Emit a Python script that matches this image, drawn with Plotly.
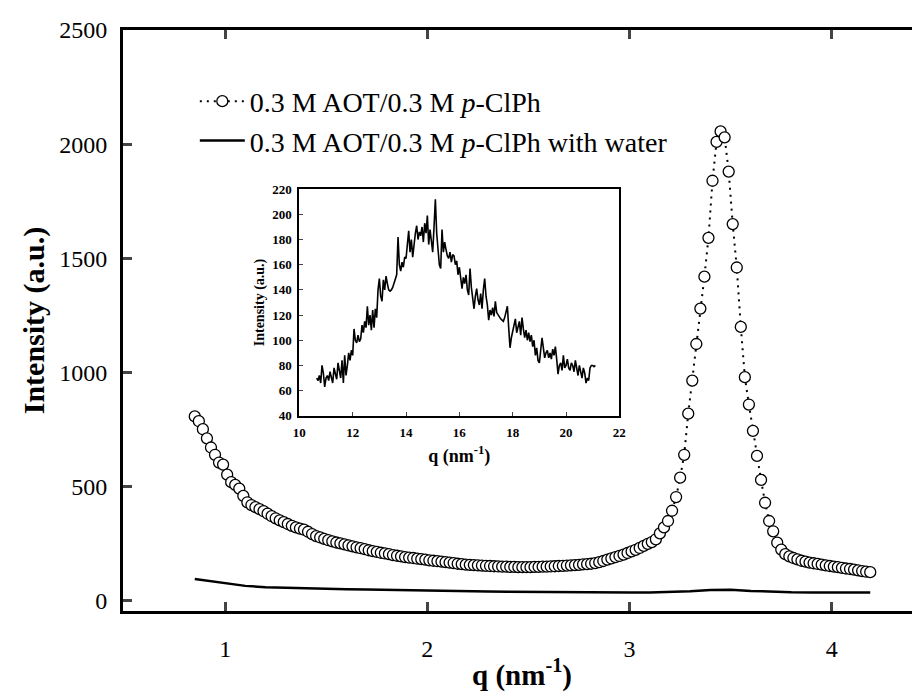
import plotly.graph_objects as go

# ---------------- data ----------------
q_main = [0.85, 0.87, 0.89, 0.91, 0.93, 0.95, 0.97, 0.99, 1.01, 1.03, 1.05, 1.07, 1.09, 1.11, 1.13, 1.15,
          1.17, 1.19, 1.21, 1.23, 1.25, 1.27, 1.29, 1.31, 1.33, 1.35, 1.37, 1.39, 1.41, 1.43, 1.45, 1.47,
          1.49, 1.51, 1.53, 1.55, 1.57, 1.59, 1.61, 1.63, 1.65, 1.67, 1.69, 1.71, 1.73, 1.75, 1.77, 1.79,
          1.81, 1.83, 1.85, 1.87, 1.89, 1.91, 1.93, 1.95, 1.97, 1.99, 2.01, 2.03, 2.05, 2.07, 2.09, 2.11,
          2.13, 2.15, 2.17, 2.19, 2.21, 2.23, 2.25, 2.27, 2.29, 2.31, 2.33, 2.35, 2.37, 2.39, 2.41, 2.43,
          2.45, 2.47, 2.49, 2.51, 2.53, 2.55, 2.57, 2.59, 2.61, 2.63, 2.65, 2.67, 2.69, 2.71, 2.73, 2.75,
          2.77, 2.79, 2.81, 2.83, 2.85, 2.87, 2.89, 2.91, 2.93, 2.95, 2.97, 2.99, 3.01, 3.03, 3.05, 3.07,
          3.09, 3.11, 3.13, 3.15, 3.17, 3.19, 3.21, 3.23, 3.25, 3.27, 3.29, 3.31, 3.33, 3.35, 3.37, 3.39,
          3.41, 3.43, 3.45, 3.47, 3.49, 3.51, 3.53, 3.55, 3.57, 3.59, 3.61, 3.63, 3.65, 3.67, 3.69, 3.71,
          3.73, 3.75, 3.77, 3.79, 3.81, 3.83, 3.85, 3.87, 3.89, 3.91, 3.93, 3.95, 3.97, 3.99, 4.01, 4.03,
          4.05, 4.07, 4.09, 4.11, 4.13, 4.15, 4.17, 4.19]
I_main = [808, 787, 752, 712, 672, 640, 606, 597, 553, 520, 508, 492, 460, 432, 420, 411,
          402, 393, 382, 371, 362, 353, 345, 337, 329, 322, 317, 312, 303, 293, 284, 278,
          272, 266, 261, 256, 252, 248, 243, 239, 235, 231, 227, 222, 218, 215, 211, 208,
          205, 201, 198, 195, 192, 190, 188, 185, 183, 181, 178, 176, 174, 172, 170, 168,
          166, 163, 161, 159, 158, 157, 156, 155, 154, 153, 152, 151, 150, 150, 149, 149,
          148, 148, 148, 148, 149, 149, 150, 150, 151, 152, 153, 154, 155, 156, 157, 158,
          160, 161, 163, 166, 170, 175, 181, 186, 192, 197, 203, 210, 217, 224, 232, 241,
          250, 258, 270, 296, 322, 350, 395, 455, 540, 640, 820, 965, 1125, 1280, 1420, 1590,
          1840, 2010, 2056, 2030, 1880, 1650, 1460, 1200, 980, 860, 745, 635, 530, 430, 350, 305,
          255, 225, 205, 195, 188, 182, 176, 172, 168, 165, 162, 159, 156, 153, 150, 148,
          145, 142, 140, 137, 134, 131, 128, 126]

q_water = [0.85, 0.9, 1.0, 1.1, 1.2, 1.3, 1.4, 1.5, 1.6, 1.7, 1.8, 1.9, 2.0, 2.1, 2.2, 2.3, 2.4, 2.5,
           2.6, 2.7, 2.8, 2.9, 3.0, 3.1, 3.2, 3.3, 3.4, 3.5, 3.6, 3.7, 3.8, 3.9, 4.0, 4.1, 4.19]
I_water = [96, 90, 78, 66, 60, 57, 55, 53, 51, 50, 48, 46, 45, 44, 42, 41, 40, 39,
           38, 38, 37, 37, 37, 37, 39, 43, 48, 49, 44, 40, 38, 37, 37, 37, 37]

q_inset_start = 10.65
q_inset_step = 0.05
I_inset = [70, 68, 72, 66, 80, 74, 63, 70,
           72, 68, 75, 71, 66, 78, 73, 69, 82, 74,
           70, 84, 66, 88, 72, 80, 90, 84, 92, 88,
           109, 100, 98, 104, 99, 101, 112, 106, 115, 110,
           127, 112, 120, 108, 124, 110, 125, 118, 140, 149,
           135, 131, 148, 140, 151, 145, 140, 139, 140, 142,
           146, 149, 152, 182, 160, 155, 162, 158, 166, 165,
           175, 187, 170, 180, 166, 178, 185, 191, 180, 186,
           183, 190, 178, 193, 185, 199, 176, 188, 180, 170,
           190, 212, 185, 175, 160, 157, 188, 170, 178, 172,
           167, 165, 170, 162, 168, 167, 160, 163, 152, 158,
           148, 141, 150, 145, 152, 140, 136, 157, 142, 135,
           125, 135, 141, 132, 128, 137, 125, 140, 149, 135,
           128, 116, 124, 120, 126, 119, 131, 122, 120, 118,
           117, 116, 115, 118, 122, 127, 110, 94, 102, 108,
           112, 117, 106, 110, 115, 104, 118, 109, 102, 108,
           100, 106, 99, 104, 95, 100, 88, 94, 84, 82,
           90, 102, 94, 86, 90, 92, 86, 90, 85, 93,
           88, 95, 85, 73, 80, 82, 76, 88, 78, 80,
           85, 78, 76, 82, 80, 75, 84, 78, 72, 80,
           76, 70, 78, 74, 66, 70, 68, 78, 80, 80, 79, 80]
q_inset = [round(q_inset_start + q_inset_step * i, 2) for i in range(len(I_inset))]

main_xticks = [1, 2, 3, 4]
main_yticks = [0, 500, 1000, 1500, 2000, 2500]
inset_xticks = [10, 12, 14, 16, 18, 20, 22]
inset_yticks = [40, 60, 80, 100, 120, 140, 160, 180, 200, 220]

name_1 = "0.3 M AOT/0.3 M <i>p</i>-ClPh"
name_2 = "0.3 M AOT/0.3 M <i>p</i>-ClPh with water"
x_title = "<b>q (nm<sup>-1</sup>)</b>"
y_title = "<b>Intensity (a.u.)</b>"

SERIF = "Liberation Serif"

# ---------------- figure ----------------
fig = go.Figure()
fig.add_trace(go.Scatter(
    x=q_main, y=I_main, mode="lines+markers", name=name_1,
    line=dict(color="black", width=2, dash="2px,5px"),
    marker=dict(symbol="circle", size=11, color="white", line=dict(color="black", width=1.3)),
))
fig.add_trace(go.Scatter(
    x=q_water, y=I_water, mode="lines", name=name_2,
    line=dict(color="black", width=2.5),
))
fig.add_trace(go.Scatter(
    x=q_inset, y=I_inset, mode="lines", showlegend=False,
    line=dict(color="black", width=1.6), xaxis="x2", yaxis="y2",
))

inset_tickfont = dict(family=SERIF, size=13, color="black", weight="bold")

fig.update_layout(
    width=920, height=696,
    margin=dict(l=115, r=0, t=22, b=93),
    paper_bgcolor="white", plot_bgcolor="white",
    font=dict(family=SERIF, color="black", size=24),
    showlegend=True,
    legend=dict(x=0.09, y=0.92, xanchor="left", yanchor="top",
                font=dict(family=SERIF, size=28, color="black"),
                bgcolor="rgba(0,0,0,0)", itemwidth=45, tracegroupgap=0),
    xaxis=dict(range=[0.495, 4.441], tickvals=main_xticks, ticks="inside", ticklen=9, tickwidth=2.5,
               showline=True, linewidth=3, linecolor="black", mirror="ticks", showgrid=False,
               zeroline=False, tickfont=dict(family=SERIF, size=24, color="black"),
               ticklabelstandoff=14,
               title=dict(text=x_title, standoff=4, font=dict(family=SERIF, size=29, color="black"))),
    yaxis=dict(range=[-44, 2500], tickvals=main_yticks, ticks="inside", ticklen=9, tickwidth=2.5,
               showline=True, linewidth=3, linecolor="black", showgrid=False, zeroline=False,
               tickfont=dict(family=SERIF, size=24, color="black"), ticklabelstandoff=8,
               title=dict(text=y_title, standoff=6, font=dict(family=SERIF, size=30, color="black"))),
    xaxis2=dict(domain=[0.221, 0.622], anchor="y2", range=[10, 22], tickvals=inset_xticks,
                ticks="inside", ticklen=4, tickwidth=1.2, showline=True, linewidth=1.8,
                linecolor="black", mirror=True, showgrid=False, zeroline=False,
                tickfont=inset_tickfont, ticklabelstandoff=4,
                title=dict(text=x_title, standoff=10, font=dict(family=SERIF, size=18, color="black"))),
    yaxis2=dict(domain=[0.336, 0.726], anchor="x2", range=[40, 220], tickvals=inset_yticks,
                ticks="inside", ticklen=4, tickwidth=1.2, showline=True, linewidth=1.8,
                linecolor="black", mirror=True, showgrid=False, zeroline=False,
                tickfont=inset_tickfont, ticklabelstandoff=3,
                title=dict(text=y_title, standoff=4, font=dict(family=SERIF, size=14, color="black"))),
)

fig.write_html("out.html")
